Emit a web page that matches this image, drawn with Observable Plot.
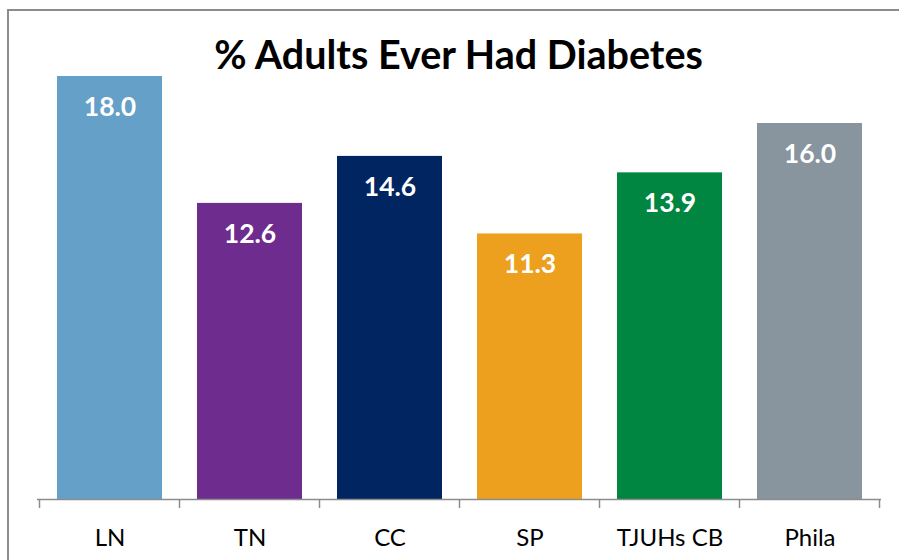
<!DOCTYPE html>
<html>
<head>
<meta charset="utf-8">
<script src="https://cdn.jsdelivr.net/npm/d3@7"></script>
<script src="https://cdn.jsdelivr.net/npm/@observablehq/plot@0.6"></script>
<style>
  html, body { margin: 0; padding: 0; background: #fff; }
  #wrap { position: relative; width: 899px; height: 560px; overflow: hidden; font-family: Lato, "Open Sans", sans-serif; }
  #frame { position: absolute; left: 7px; top: 9px; width: 900px; height: 560px; border-left: 2px solid #8c8c8c; border-top: 2px solid #8c8c8c; box-sizing: border-box; }
  #title { position: absolute; left: 0; width: 917px; top: 32px; text-align: center; font-size: 39.5px; font-weight: bold; color: #000; line-height: 44px; }
  #chart { position: absolute; left: 0; top: 0; }
</style>
</head>
<body>
<div id="wrap">
  <div id="frame"></div>
  <div id="chart"></div>
  <div id="title">% Adults Ever Had Diabetes</div>
</div>
<script>
const categories = ["LN", "TN", "CC", "SP", "TJUHs CB", "Phila"];
const values = [18.0, 12.6, 14.6, 11.3, 13.9, 16.0];
const colors = ["#65a0c8", "#6f2c8f", "#002561", "#eca01e", "#008641", "#88959e"];

const data = categories.map((c, i) => ({category: c, value: values[i], color: colors[i]}));

function boundaryTicks(index, scales) {
  const x = scales.x, y = scales.y;
  const step = x.step(), po = x.paddingOuter();
  const y0 = y(0);
  const g = d3.create("svg:g").attr("stroke", "#8c8c8c").attr("stroke-width", 1.5);
  const bounds = categories.map(c => x(c) - step * po);
  bounds.push(x(categories[categories.length - 1]) - step * po + step);
  for (const b of bounds) {
    g.append("line").attr("x1", b).attr("x2", b).attr("y1", y0).attr("y2", y0 + 9);
  }
  return g.node();
}

const plot = Plot.plot({
  width: 899,
  height: 560,
  marginLeft: 37,
  marginRight: 18,
  marginTop: 76,
  marginBottom: 61,
  style: {fontFamily: "Lato, 'Open Sans', sans-serif", fontSize: "24px", color: "#000", background: "transparent"},
  x: {domain: categories, paddingInner: 0.25, paddingOuter: 0.125, label: null},
  y: {domain: [0, 18], axis: null},
  marks: [
    Plot.barY(data, {x: "category", y: "value", fill: "color"}),
    Plot.ruleY([0], {stroke: "#8c8c8c", strokeWidth: 1.5}),
    boundaryTicks,
    Plot.axisX({tickSize: 0, tickPadding: 29, fontSize: 24, fill: "#000"}),
    Plot.text(data, {x: "category", y: "value", text: d => d.value.toFixed(1), dy: 31, fill: "#fff", fontWeight: "bold", fontSize: 26.5})
  ]
});
document.getElementById("chart").appendChild(plot);
</script>
</body>
</html>
